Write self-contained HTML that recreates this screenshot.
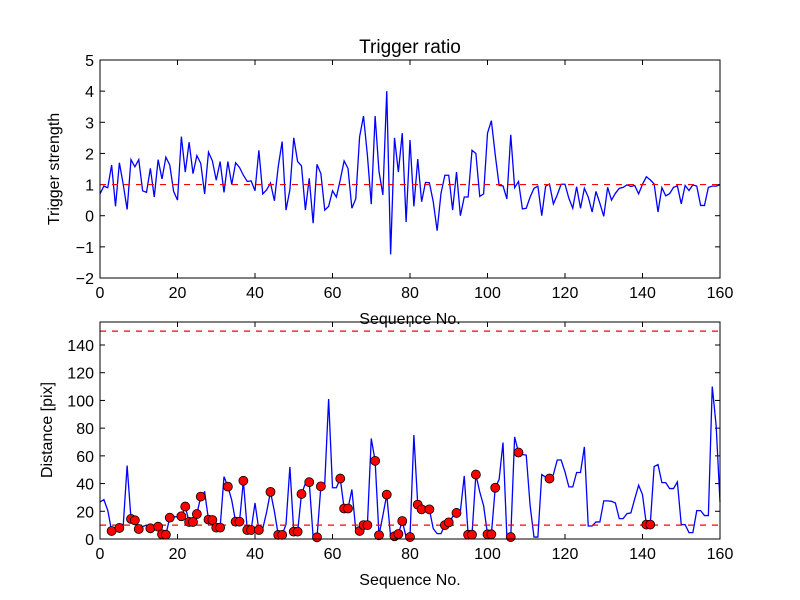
<!DOCTYPE html>
<html><head><meta charset="utf-8"><style>
body{margin:0;background:#fff;}
svg{display:block;font-family:"Liberation Sans","DejaVu Sans",sans-serif;}
</style></head><body>
<svg id="chart" width="800" height="600" viewBox="0 0 800 600" xmlns="http://www.w3.org/2000/svg">
<rect width="800" height="600" fill="#fff"/>
<text x="410" y="53" font-size="19" text-anchor="middle">Trigger ratio</text>
<g id="top"></g>
<g id="bot"></g>
<text x="410" y="324" font-size="16" text-anchor="middle">Sequence No.</text>
<text x="410" y="585" font-size="16" text-anchor="middle">Sequence No.</text>
<text transform="translate(59,169) rotate(-90)" font-size="16" text-anchor="middle">Trigger strength</text>
<text transform="translate(52,430) rotate(-90)" font-size="16" text-anchor="middle">Distance [pix]</text>
</svg>
<script>
const strength=[0.7,0.95,0.9,1.63,0.3,1.7,1.0,0.2,1.8,1.57,1.8,0.8,0.75,1.52,0.6,1.8,1.18,1.88,1.63,0.78,0.5,2.54,1.4,2.36,1.35,1.93,1.68,0.7,2.04,1.76,1.14,1.74,0.75,1.74,1.0,1.7,1.55,1.3,1.1,1.12,0.8,2.1,0.7,0.83,1.05,0.48,1.58,2.38,0.18,0.83,2.5,1.74,1.6,0.18,1.2,-0.24,1.65,1.35,0.18,0.3,0.8,0.6,1.15,1.76,1.52,0.24,0.54,2.54,3.2,1.95,0.37,3.2,1.42,0.67,4.0,-1.24,2.5,1.4,2.65,-0.2,2.43,0.3,1.82,0.45,1.07,1.06,0.45,-0.48,0.72,1.3,1.3,0.18,1.4,0.0,0.6,0.6,2.1,2.0,0.62,0.7,2.65,3.05,1.95,0.97,0.96,0.54,2.6,0.9,1.1,0.22,0.24,0.6,0.88,0.95,0.0,0.95,1.02,0.38,0.67,1.01,1.01,0.56,0.24,0.93,0.24,0.88,0.6,0.12,0.78,0.4,-0.02,0.91,0.5,0.72,0.88,0.91,0.99,0.94,0.97,0.7,1.01,1.25,1.15,1.02,0.12,0.9,0.64,0.71,0.91,0.96,0.38,0.97,0.81,0.99,0.95,0.33,0.33,0.91,0.95,0.95,0.99];
const distance=[26.7,28.4,20.7,5.8,7,8,10,53,14.5,13.5,7.2,9,10,7.7,8.7,8.9,3.4,3.1,15.4,16,16,16.4,23.4,12.3,12.3,18,30.6,34,14,13.7,8.2,8.2,45,37.8,28,12.5,12.5,42,6.5,6.5,26,6.5,7.5,19.5,34,20,3,3,10.6,52,5.3,5.3,32.5,40,41,1.4,1.2,38,40,101,37,37,43.6,22,22,35.7,6.7,5.8,10,10,72.5,56.4,2.7,17,32,1.4,2,3.6,13,1.4,1.4,75,24.8,21.4,21,21.4,7.5,3.9,3.9,10,12,16,18.8,20,45.5,3.1,3.1,46.5,34,24,3.4,3.4,37,43,69.6,1.4,1.4,73.7,62.4,61,60.5,24,1.4,1.4,46.5,44.6,43.6,46.5,57,57,48.4,37.6,37.6,48,48,66.5,9.4,9.4,12.3,12.3,27.5,27.5,27.2,26,14.7,14.7,18.3,18.8,29,38.8,32,10.4,10.4,52.3,53.7,40.7,40.7,36.4,36.4,41.2,10.4,10.4,4.6,4.6,20.5,20.5,16.9,16.9,110,82,26.7];
const markerIdx=[3,5,8,9,10,13,15,16,17,18,21,22,23,24,25,26,28,29,30,31,33,35,36,37,38,39,41,44,46,47,50,51,52,54,56,57,62,63,64,67,68,69,71,72,74,76,77,78,80,82,83,85,89,90,92,95,96,97,100,101,102,106,108,116,141,142];
const xTicks=[0,20,40,60,80,100,120,140,160];
const topYTicks=[-2,-1,0,1,2,3,4,5];
const botYTicks=[0,20,40,60,80,100,120,140];
const topRef=[1], botRefs=[10,150];

const NS='http://www.w3.org/2000/svg';
function mk(parent,tag,attrs){const e=document.createElementNS(NS,tag);for(const k in attrs)e.setAttribute(k,attrs[k]);parent.appendChild(e);return e;}
const X0=100,X1=720;
const xs=v=>X0+(v-0)/(160-0)*(X1-X0);

function panel(g,Y0,Y1,ymin,ymax,yTicks,name){
  const ys=v=>Y1-(v-ymin)/(ymax-ymin)*(Y1-Y0);
  // ticks
  xTicks.forEach(t=>{
    const x=xs(t);
    const l1=mk(g,'line',{x1:x,x2:x,y1:Y1,y2:Y1-5,stroke:'#000'});
    
    
    const l2=mk(g,'line',{x1:x,x2:x,y1:Y0,y2:Y0+5,stroke:'#000'});
    
    
    const tx=mk(g,'text',{x:x,y:Y1+20,'font-size':16,'text-anchor':'middle'});
    tx.textContent=t;
    
    
  });
  yTicks.forEach(t=>{
    const y=ys(t);
    const l1=mk(g,'line',{x1:X0,x2:X0+5,y1:y,y2:y,stroke:'#000'});
    
    
    const l2=mk(g,'line',{x1:X1,x2:X1-5,y1:y,y2:y,stroke:'#000'});
    
    
    const tx=mk(g,'text',{x:X0-6,y:y+6,'font-size':16,'text-anchor':'end'});
    tx.textContent=(t<0?'\u2212'+(-t):t);
    
    
  });
  return ys;
}

// top panel
const gt=document.getElementById('top');
const ysT=panel(gt,60,278,-2,5,topYTicks,'top');
const pT=mk(gt,'polyline',{points:strength.map((v,i)=>xs(i)+','+ysT(v)).join(' '),fill:'none',stroke:'#0000ff','stroke-width':1.3});


topRef.forEach(r=>{
  const l=mk(gt,'line',{x1:X0,x2:X1,y1:ysT(r),y2:ysT(r),stroke:'#ff0000','stroke-dasharray':'6,6','stroke-width':1.2});
  
  
});
const fT=mk(gt,'rect',{x:X0,y:60,width:X1-X0,height:218,fill:'none',stroke:'#000'});



// bottom panel
const gb=document.getElementById('bot');
const ysB=panel(gb,322,539,0,156.6,botYTicks,'bottom');
const pB=mk(gb,'polyline',{points:distance.map((v,i)=>xs(i)+','+ysB(v)).join(' '),fill:'none',stroke:'#0000ff','stroke-width':1.3});


botRefs.forEach(r=>{
  const l=mk(gb,'line',{x1:X0,x2:X1,y1:ysB(r),y2:ysB(r),stroke:'#ff0000','stroke-dasharray':'6,6','stroke-width':1.2});
  
  
});
markerIdx.forEach(i=>{
  const c=mk(gb,'circle',{cx:xs(i),cy:ysB(distance[i]),r:4.5,fill:'#ff0000',stroke:'#000','stroke-width':0.8});
  
  
});
const fB=mk(gb,'rect',{x:X0,y:322,width:X1-X0,height:217,fill:'none',stroke:'#000'});


</script>
</body></html>
